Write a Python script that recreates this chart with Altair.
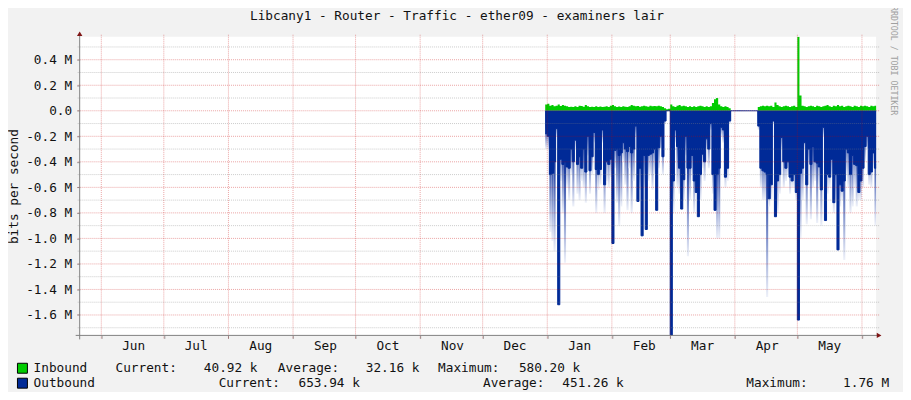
import altair as alt
import pandas as pd

# ---------------- data (Mbit/s), one value per day from 2012-12-31 ----------------
first_day = "2012-12-31"

# Outbound: solid body depth (magnitude)
out_body = [
    0.18,
    # Jan
    0.20, 0.50, 0.49, 0.40, 0.14, 1.52, 0.38, 0.42, 0.40, 0.44, 0.45, 0.30, 0.40, 0.23, 0.42, 0.36,
    0.45, 0.30, 0.48, 0.20, 0.47, 0.36, 0.17, 0.46, 0.50, 0.46, 0.15, 0.58, 0.40, 0.42, 0.38,
    # Feb
    1.04, 0.31, 0.30, 0.35, 0.33, 0.25, 0.30, 0.32, 0.28, 0.33, 0.30, 0.12, 0.71, 0.45, 0.98, 0.35,
    0.93, 0.35, 0.34, 0.33, 0.30, 0.78, 0.29, 0.20, 0.36, 0.08, 0.0, 0.0,
    # Mar
    1.76, 0.55, 0.15, 0.28, 0.45, 0.77, 0.54, 0.20, 0.45, 0.45, 0.35, 0.55, 0.64, 0.83, 0.50, 0.34,
    0.40, 0.22, 0.30, 0.10, 0.50, 0.78, 0.50, 0.45, 0.13, 0.15, 0.52, 0.45, 0.08, 0.0, 0.0,
    # Apr
    0.0, 0.0, 0.0, 0.0, 0.0, 0.0, 0.0, 0.0, 0.0, 0.0, 0.0, 0.12, 0.45, 0.47, 0.48, 0.50,
    0.69, 0.58, 0.08, 0.83, 0.55, 0.50, 0.21, 0.40, 0.45, 0.40, 0.52, 0.55, 0.50, 0.64,
    # May
    1.64, 0.49, 0.45, 0.25, 0.58, 0.30, 0.42, 0.28, 0.40, 0.41, 0.44, 0.62, 0.13, 0.86, 0.50, 0.52,
    0.38, 0.72, 0.50, 1.09, 0.58, 0.63, 0.55, 0.30, 0.33, 0.50, 0.35, 0.42, 0.43, 0.64, 0.55,
    # Jun
    0.45, 0.28, 0.20, 0.50, 0.48, 0.33, 0.45, 0.42,
]

# Outbound: faint peak depth (magnitude)
out_peak = [
    0.30,
    # Jan
    0.30, 0.95, 1.02, 1.10, 0.20, 1.52, 0.55, 0.80, 1.19, 0.60, 0.70, 0.50, 0.75, 0.30, 0.65, 0.70,
    0.55, 0.60, 0.72, 0.35, 0.65, 0.50, 0.25, 0.80, 0.62, 0.58, 0.25, 0.80, 0.55, 0.60, 0.52,
    # Feb
    1.04, 0.45, 0.72, 0.90, 0.75, 0.40, 0.58, 0.78, 0.45, 0.80, 0.55, 0.20, 0.71, 0.62, 0.98, 0.60,
    0.93, 0.55, 0.50, 0.62, 0.50, 0.78, 0.45, 0.30, 0.50, 0.10, 0.0, 0.0,
    # Mar
    1.76, 0.80, 0.25, 0.60, 0.65, 0.77, 0.70, 0.35, 1.14, 0.70, 0.50, 0.80, 0.64, 0.83, 0.70, 0.45,
    0.55, 0.30, 0.45, 0.15, 0.65, 0.78, 1.00, 1.00, 0.20, 0.25, 0.60, 0.55, 0.10, 0.0, 0.0,
    # Apr
    0.0, 0.0, 0.0, 0.0, 0.0, 0.0, 0.0, 0.0, 0.0, 0.0, 0.0, 0.15, 0.60, 0.70, 0.70, 1.46,
    0.75, 0.70, 0.10, 0.83, 0.80, 0.65, 0.30, 0.60, 0.55, 0.50, 0.65, 0.60, 0.60, 0.70,
    # May
    1.64, 1.00, 0.70, 0.30, 0.89, 0.40, 0.85, 0.60, 0.55, 0.88, 0.60, 0.90, 0.20, 0.86, 0.65, 0.60,
    0.50, 0.80, 0.70, 1.09, 0.75, 0.70, 1.17, 0.50, 0.60, 0.80, 0.75, 0.60, 0.75, 0.70, 0.70,
    # Jun
    0.60, 0.40, 0.30, 0.58, 0.60, 0.45, 0.90, 0.60,
]

# Inbound (positive)
inbound = [
    0.050,
    # Jan
    0.055, 0.040, 0.045, 0.035, 0.040, 0.050, 0.038, 0.045, 0.040, 0.035, 0.030, 0.032, 0.030, 0.035, 0.030, 0.040,
    0.038, 0.032, 0.045, 0.035, 0.030, 0.032, 0.030, 0.035, 0.030, 0.033, 0.030, 0.032, 0.035, 0.030, 0.040,
    # Feb
    0.045, 0.035, 0.030, 0.033, 0.030, 0.035, 0.032, 0.030, 0.035, 0.045, 0.040, 0.035, 0.038, 0.032, 0.035, 0.040,
    0.035, 0.032, 0.040, 0.035, 0.038, 0.035, 0.040, 0.035, 0.030, 0.020, 0.012, 0.015,
    # Mar
    0.050, 0.035, 0.030, 0.040, 0.045, 0.035, 0.040, 0.035, 0.030, 0.035, 0.030, 0.035, 0.030, 0.035, 0.040, 0.035,
    0.030, 0.035, 0.030, 0.035, 0.060, 0.090, 0.100, 0.050, 0.035, 0.030, 0.035, 0.030, 0.020, 0.0, 0.0,
    # Apr
    0.0, 0.0, 0.0, 0.0, 0.0, 0.0, 0.0, 0.0, 0.0, 0.0, 0.0, 0.030, 0.035, 0.040, 0.035, 0.040,
    0.035, 0.040, 0.030, 0.065, 0.045, 0.035, 0.030, 0.035, 0.040, 0.035, 0.030, 0.035, 0.040, 0.030,
    # May
    0.580, 0.120, 0.040, 0.035, 0.030, 0.035, 0.040, 0.035, 0.030, 0.040, 0.035, 0.030, 0.035, 0.040, 0.045, 0.035,
    0.030, 0.040, 0.035, 0.045, 0.035, 0.040, 0.030, 0.035, 0.040, 0.035, 0.030, 0.040, 0.035, 0.030, 0.040,
    # Jun
    0.035, 0.040, 0.035, 0.030, 0.040, 0.035, 0.040, 0.035,
]

# month gridlines (year, month)
month_starts = [(2012, 6), (2012, 7), (2012, 8), (2012, 9), (2012, 10), (2012, 11), (2012, 12),
                (2013, 1), (2013, 2), (2013, 3), (2013, 4), (2013, 5), (2013, 6)]
major_y = [-1.6, -1.4, -1.2, -1.0, -0.8, -0.6, -0.4, -0.2, 0.0, 0.2, 0.4]
minor_y = [-1.7, -1.5, -1.3, -1.1, -0.9, -0.7, -0.5, -0.3, -0.1, 0.1, 0.3, 0.5]

title_text = "Libcany1 - Router - Traffic - ether09 - examiners lair"
y_title = "bits per second"
watermark = "RRDTOOL / TOBI OETIKER"
legend_names = ["Inbound", "Outbound"]
legend_colors = ["#00CC00", "#002A97"]
legend_current = ["40.92 k", "653.94 k"]
legend_average = ["32.16 k", "451.26 k"]
legend_maximum = ["580.20 k", "1.76 M"]

# ---------------- build table ----------------
n = len(out_body)
dates = pd.date_range(first_day, periods=n + 2, freq="D")
fmt = "%Y-%m-%dT%H:%M:%S"
df = pd.DataFrame({
    "date": [d.strftime(fmt) for d in dates[:n + 1]],
    "next": [d.strftime(fmt) for d in dates[1:n + 2]],
    "inb": [v * 1e6 for v in inbound] + [inbound[-1] * 1e6],
    "body": [-v * 1e6 for v in out_body] + [-out_body[-1] * 1e6],
    "peak": [-v * 1e6 for v in out_peak] + [-out_peak[-1] * 1e6],
})
months_df = pd.DataFrame({"date": ["%04d-%02d-01T00:00:00" % (y, m) for y, m in month_starts]})
major_df = pd.DataFrame({"v": [v * 1e6 for v in major_y]})
minor_df = pd.DataFrame({"v": [v * 1e6 for v in minor_y]})
one = pd.DataFrame({"a": [0]})

FONT = "DejaVu Sans Mono"
FS = 12.8
W, H = 800, 300

xs = alt.Scale(domain=[alt.DateTime(year=2012, month=5, date=21, hours=15),
                       alt.DateTime(year=2013, month=6, date=7, hours=19)])
ys = alt.Scale(domain=[-1760000, 580200], nice=False, zero=False)

x_axis = alt.Axis(
    values=[alt.DateTime(year=y, month=m, date=1) for y, m in month_starts],
    labelExpr="timeFormat(datum.value, '%Y%m') == '201306' ? '' : timeFormat(datum.value, '%b')",
    labelOffset=32, labelPadding=1, labelFlush=False, labelOverlap=False,
    tickSize=3, tickColor="#999999", domain=False, grid=False, title=None,
    labelFont=FONT, labelFontSize=FS, labelColor="#111111",
)
y_axis = alt.Axis(
    values=[v * 1e6 for v in major_y],
    labelExpr="datum.value == 0 ? '0.0\u00a0\u00a0' : (datum.value < 0 ? '-' : '') + format(abs(datum.value) / 1e6, '.1f') + ' M'",
    labelPadding=5, labelFlush=False, labelOverlap=False,
    tickSize=3, tickColor="#999999", domain=False, grid=False,
    labelFont=FONT, labelFontSize=FS, labelColor="#111111",
    title=y_title, titleFont=FONT, titleFontSize=FS, titleFontWeight="normal", titleColor="#111111",
    titleAngle=-90, titleX=-66, titleY=150, titleAlign="center", titleBaseline="middle",
)

X = alt.X("date:T", scale=xs, axis=x_axis)

base = alt.Chart(df)

inb_layer = base.mark_area(interpolate="step-after", color="#00CC00", clip=True).encode(
    x=X, y=alt.Y("inb:Q", scale=ys, axis=y_axis), y2=alt.datum(0),
)

# each day's peak column fades from dark (at zero) to nearly white (at its tip)
grad = {
    "gradient": "linear", "x1": 0, "x2": 0, "y1": 0, "y2": 1,
    "stops": [
        {"offset": 0.0, "color": "#002A97"},
        {"offset": 0.40, "color": "#1f3fa2"},
        {"offset": 0.70, "color": "#8798cf"},
        {"offset": 1.0, "color": "#eef1f9"},
    ],
}
peak_layer = base.mark_bar(color=grad, clip=True, strokeWidth=0).encode(
    x=X, x2="next:T", y=alt.Y("peak:Q", scale=ys, axis=y_axis), y2=alt.datum(0),
)
body_layer = base.mark_area(interpolate="step-after", color="#002A97", clip=True).encode(
    x=X, y=alt.Y("body:Q", scale=ys, axis=y_axis), y2=alt.datum(0),
)
body_line = base.mark_line(interpolate="step-after", color="#002A97", strokeWidth=1, clip=True).encode(
    x=X, y=alt.Y("body:Q", scale=ys, axis=y_axis),
)

minor_grid = alt.Chart(minor_df).mark_rule(color="#808080", opacity=0.4, strokeDash=[1, 1]).encode(
    y=alt.Y("v:Q", scale=ys, axis=y_axis), x=alt.value(-2), x2=alt.value(W + 3),
)
major_grid = alt.Chart(major_df).mark_rule(color="#C80000", opacity=0.36, strokeDash=[1, 1]).encode(
    y=alt.Y("v:Q", scale=ys, axis=y_axis), x=alt.value(-2), x2=alt.value(W + 3),
)
month_grid = alt.Chart(months_df).mark_rule(color="#C80000", opacity=0.36, strokeDash=[1, 1]).encode(
    x=X, y=alt.value(-2), y2=alt.value(H + 4),
)

one_c = alt.Chart(one)
x_line = one_c.mark_rule(color="#808080", strokeWidth=1).encode(
    x=alt.value(-4), x2=alt.value(W + 4), y=alt.value(H))
y_line = one_c.mark_rule(color="#808080", strokeWidth=1).encode(
    x=alt.value(0), y=alt.value(-3), y2=alt.value(H + 4))
x_arrow = one_c.mark_point(shape="triangle-right", filled=True, size=30, color="#7F1515", opacity=1).encode(
    x=alt.value(W + 3), y=alt.value(H))
y_arrow = one_c.mark_point(shape="triangle-up", filled=True, size=30, color="#7F1515", opacity=1).encode(
    x=alt.value(0), y=alt.value(-3))

title_layer = one_c.mark_text(text=title_text, font=FONT, fontSize=FS, color="#111111",
                              align="center", baseline="middle").encode(
    x=alt.value(379), y=alt.value(-21))
wm_layer = one_c.mark_text(text=watermark, font=FONT, fontSize=8.3, color="#A0A0A0",
                           align="center", baseline="middle", angle=90).encode(
    x=alt.value(817), y=alt.value(24))

legend_layers = []
row_y = [333, 348]
cur_lbl_x = [36, 139.6]
cur_val_x = [178.6, 281.4]
avg_lbl_x = [199, 405.2]
avg_val_x = [341.3, 546.4]
max_lbl_x = [360, 669.6]
max_val_x = [502.8, 813]
for i in range(2):
    yv = row_y[i]
    legend_layers.append(one_c.mark_rect(color=legend_colors[i], stroke="#000000", strokeWidth=1).encode(
        x=alt.value(-62.5), x2=alt.value(-52.5), y=alt.value(yv - 5), y2=alt.value(yv + 5)))
    items = [
        (legend_names[i], -46.3, "left"),
        ("Current:", cur_lbl_x[i], "left"),
        (legend_current[i], cur_val_x[i], "right"),
        ("Average:", avg_lbl_x[i], "left"),
        (legend_average[i], avg_val_x[i], "right"),
        ("Maximum:", max_lbl_x[i], "left"),
        (legend_maximum[i], max_val_x[i], "right"),
    ]
    for txt, xv, al in items:
        legend_layers.append(one_c.mark_text(text=txt, font=FONT, fontSize=FS, color="#111111",
                                             align=al, baseline="middle").encode(
            x=alt.value(xv), y=alt.value(yv)))

chart = alt.layer(
    inb_layer, peak_layer, body_layer, body_line,
    minor_grid, major_grid, month_grid,
    x_line, y_line, x_arrow, y_arrow,
    title_layer, wm_layer, *legend_layers,
).properties(
    width=W, height=H,
    autosize=alt.AutoSizeParams(type="none"),
    padding={"left": 72, "top": 28, "right": 27, "bottom": 56},
).configure(
    background="#F2F2F2",
).configure_view(
    fill="white", stroke=None,
)

chart.save("out.html", embed_options={"renderer": "svg", "actions": False})
